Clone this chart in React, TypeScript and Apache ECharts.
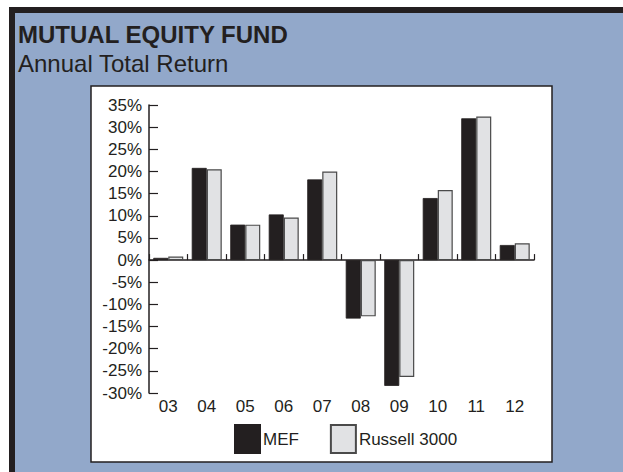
import React, { useEffect, useRef } from "react";
import * as echarts from "echarts";

const categories = ["03", "04", "05", "06", "07", "08", "09", "10", "11", "12"];
const mefValues = [0.5, 20.8, 8.0, 10.3, 18.2, -13.2, -28.4, 14.0, 32.0, 3.4];
const russellValues = [0.8, 20.5, 8.0, 9.6, 20.0, -12.7, -26.4, 15.8, 32.4, 3.8];
const seriesNames = ["MEF", "Russell 3000"];
const titleText = "MUTUAL EQUITY FUND";
const subtitleText = "Annual Total Return";

const INK = "#231f20";
const BLUE = "#92a8ca";
const FONT = "'Liberation Sans', Arial, sans-serif";

export default function App() {
  const ref = useRef<HTMLDivElement>(null);
  useEffect(() => {
    if (!ref.current) return;
    const chart = echarts.init(ref.current, undefined, { renderer: "svg" });
    chart.setOption({
      animation: false,
      textStyle: { fontFamily: FONT, color: INK },
      graphic: [
        { type: "rect", z: -20, shape: { x: 0, y: 0, width: 623, height: 472 }, style: { fill: "#ffffff" } },
        { type: "rect", z: -19, shape: { x: 9, y: 7, width: 614, height: 465 }, style: { fill: INK } },
        { type: "rect", z: -18, shape: { x: 15, y: 13, width: 608, height: 459 }, style: { fill: BLUE } },
        {
          type: "rect",
          z: -17,
          shape: { x: 91, y: 86, width: 461, height: 376 },
          style: { fill: "#ffffff", stroke: INK, lineWidth: 1.5 },
        },
      ],
      title: [
        {
          text: titleText,
          left: 18,
          top: 22,
          padding: 0,
          textStyle: { fontSize: 24, fontWeight: "bold", color: INK, fontFamily: FONT },
        },
        {
          text: subtitleText,
          left: 18,
          top: 51,
          padding: 0,
          textStyle: { fontSize: 24, fontWeight: "normal", color: INK, fontFamily: FONT },
        },
      ],
      legend: {
        left: 234,
        top: 424,
        padding: 0,
        itemWidth: 25,
        itemHeight: 28,
        itemGap: 31,
        icon: "rect",
        textStyle: { fontSize: 17, color: INK, fontFamily: FONT, padding: [0, 0, 0, -2] },
        data: seriesNames,
      },
      grid: { left: 149, right: 89, top: 105, bottom: 79, containLabel: false },
      xAxis: [
        {
          type: "category",
          data: categories,
          position: "bottom",
          axisLine: { show: true, onZero: true, lineStyle: { color: INK, width: 1.5 } },
          axisTick: { show: true, inside: true, length: 6, lineStyle: { color: INK, width: 1.2 } },
          axisLabel: { show: false },
          splitLine: { show: false },
        },
        {
          type: "category",
          data: categories,
          position: "bottom",
          axisLine: { show: false, onZero: false },
          axisTick: { show: false },
          axisLabel: { show: true, fontSize: 17, color: INK, margin: 5, fontFamily: FONT },
          splitLine: { show: false },
        },
      ],
      yAxis: {
        type: "value",
        min: -30,
        max: 35,
        interval: 5,
        axisLine: { show: true, lineStyle: { color: INK, width: 1.5 } },
        axisTick: { show: true, inside: true, length: 9, lineStyle: { color: INK, width: 1.2 } },
        axisLabel: { fontSize: 17, color: INK, margin: 7, formatter: "{value}%", fontFamily: FONT },
        splitLine: { show: false },
      },
      series: [
        {
          name: seriesNames[0],
          type: "bar",
          xAxisIndex: 0,
          data: mefValues,
          barWidth: 15,
          barGap: "0%",
          itemStyle: { color: INK, borderColor: INK, borderWidth: 0.8 },
        },
        {
          name: seriesNames[1],
          type: "bar",
          xAxisIndex: 0,
          data: russellValues,
          barWidth: 15,
          barGap: "0%",
          itemStyle: { color: "#e1e2e4", borderColor: "#4a4a4a", borderWidth: 1.2 },
        },
      ],
    });
    return () => chart.dispose();
  }, []);
  return (
    <div
      ref={ref}
      style={{ position: "absolute", left: 0, top: 0, width: 623, height: 472 }}
    />
  );
}
